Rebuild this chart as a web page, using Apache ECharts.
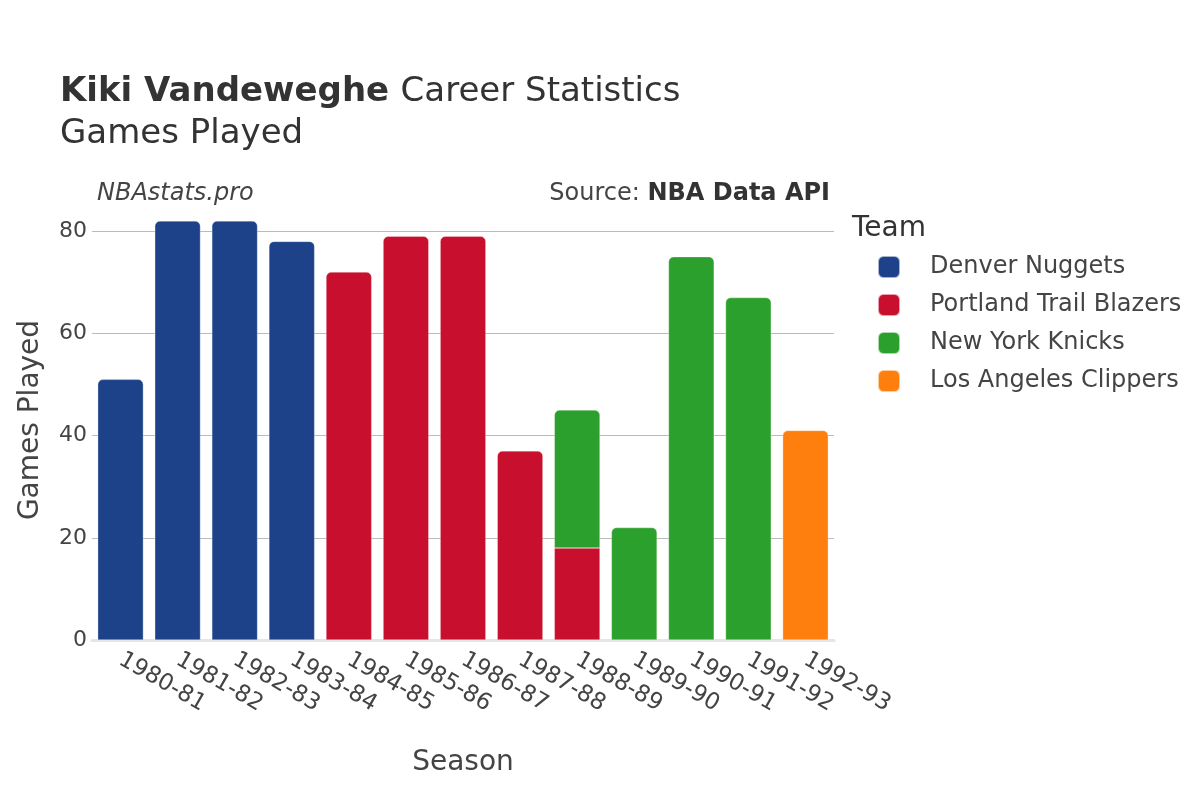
<!DOCTYPE html>
<html>
<head>
<meta charset="utf-8">
<script src="https://cdn.jsdelivr.net/npm/echarts@6/dist/echarts.min.js"></script>
<style>html,body{margin:0;padding:0;background:#fff}#c{width:1200px;height:800px}</style>
</head>
<body>
<div id="c"></div>
<script>
const seasons = ['1980-81','1981-82','1982-83','1983-84','1984-85','1985-86','1986-87','1987-88','1988-89','1989-90','1990-91','1991-92','1992-93'];
const teams = ['Denver Nuggets','Portland Trail Blazers','New York Knicks','Los Angeles Clippers'];
const teamColors = ['#1d428a','#c8102e','#2ca02c','#ff7f0e'];
const denver   = [51, 82, 82, 78, null, null, null, null, null, null, null, null, null];
const portland = [null, null, null, null, 72, 79, 79, 37, 18, null, null, null, null];
const knicks   = [null, null, null, null, null, null, null, null, 27, 22, 75, 67, null];
const clippers = [null, null, null, null, null, null, null, null, null, null, null, null, 41];
const yTicks = [0, 20, 40, 60, 80];

const allValues = [denver, portland, knicks, clippers];
const FONT = 'DejaVu Sans';

const topIdx = seasons.map((s, i) => {
  let t = -1;
  allValues.forEach((arr, k) => { if (arr[i] != null) t = k; });
  return t;
});
const totals = seasons.map((s, i) => allValues.reduce((a, arr) => a + (arr[i] || 0), 0));
const yMax = Math.max(...totals) * 1.05;

const series = teams.map((name, k) => ({
  name: name,
  type: 'bar',
  stack: 'total',
  barCategoryGap: '20%',
  itemStyle: { color: teamColors[k], borderColor: 'rgba(255,255,255,0.6)', borderWidth: 0.5 },
  data: allValues[k].map((v, i) => v == null ? '-' : {
    value: v,
    itemStyle: { borderRadius: topIdx[i] === k ? [5, 5, 0, 0] : 0 }
  })
}));

const chart = echarts.init(document.getElementById('c'), null, { renderer: 'canvas' });
chart.setOption({
  backgroundColor: '#fff',
  animation: false,
  textStyle: { fontFamily: FONT },
  title: [
    {
      left: 60, top: 71, padding: 0,
      text: '{b|Kiki Vandeweghe}  {n|Career Statistics}\n{n|Games Played}',
      textStyle: {
        fontWeight: 'normal',
        rich: {
          b: { fontFamily: FONT, fontSize: 34, fontWeight: 'bold', color: '#333', lineHeight: 42 },
          n: { fontFamily: FONT, fontSize: 34, fontWeight: 'normal', color: '#333', lineHeight: 42 }
        }
      }
    },
    {
      left: 97, top: 182, padding: 0,
      text: 'NBAstats.pro',
      textStyle: { fontFamily: FONT, fontSize: 24, fontStyle: 'italic', fontWeight: 'normal', color: '#444' }
    },
    {
      right: 370, top: 182, padding: 0,
      text: '{n|Source: }{b|NBA Data API}',
      textStyle: {
        fontWeight: 'normal',
        rich: {
          n: { fontFamily: FONT, fontSize: 24, fontWeight: 'normal', color: '#444' },
          b: { fontFamily: FONT, fontSize: 24, fontWeight: 'bold', color: '#333' }
        }
      }
    },
    {
      left: 852, top: 215, padding: 0,
      text: 'Team',
      textStyle: { fontFamily: FONT, fontSize: 28, fontWeight: 'normal', color: '#333' }
    }
  ],
  legend: {
    orient: 'vertical',
    left: 877, top: 255, padding: 0,
    itemWidth: 22, itemHeight: 22,
    itemGap: 14,
    icon: 'roundRect',
    data: teams,
    textStyle: { fontFamily: FONT, fontSize: 24, color: '#444', padding: [0, 0, 0, 25] }
  },
  grid: { left: 92, right: 366, top: 200, bottom: 160, containLabel: false },
  xAxis: {
    type: 'category',
    data: seasons,
    name: 'Season',
    nameLocation: 'middle',
    nameGap: 109,
    nameTextStyle: { fontFamily: FONT, fontSize: 28, color: '#444' },
    axisLine: { show: true, lineStyle: { color: '#e5e5e5', width: 3 } },
    axisTick: { show: false },
    axisLabel: { rotate: -30, fontFamily: FONT, fontSize: 23, color: '#444', margin: 18, interval: 0 }
  },
  yAxis: {
    type: 'value',
    min: 0, max: yMax, interval: 20,
    name: 'Games Played',
    nameLocation: 'middle',
    nameGap: 47,
    nameTextStyle: { fontFamily: FONT, fontSize: 28, color: '#444' },
    axisLine: { show: false },
    axisTick: { show: false },
    axisLabel: {
      fontFamily: FONT, fontSize: 22, color: '#444', margin: 5,
      showMaxLabel: false,
      formatter: v => yTicks.includes(v) ? String(v) : ''
    },
    splitLine: { show: true, showMinLine: false, showMaxLine: false, lineStyle: { color: '#bbbbbb', width: 1 } }
  },
  series: series
});
</script>
</body>
</html>
